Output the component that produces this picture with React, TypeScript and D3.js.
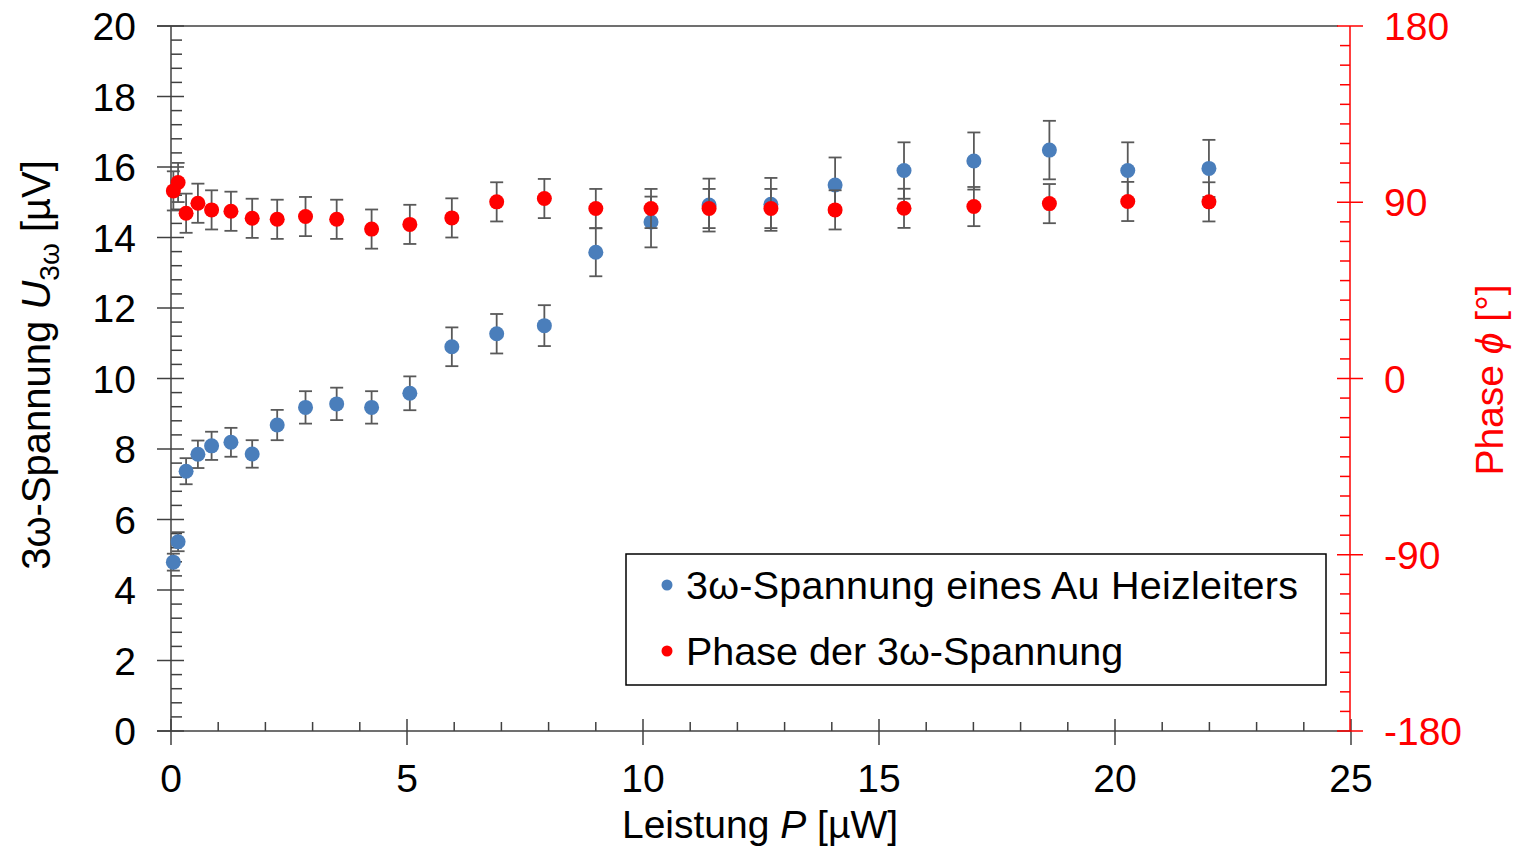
import React from "react";
import * as d3 from "d3";

const powerUW = [0.05, 0.15, 0.32, 0.57, 0.86, 1.27, 1.72, 2.25, 2.85, 3.51, 4.25, 5.06, 5.95, 6.90, 7.91, 9.00, 10.17, 11.40, 12.71, 14.07, 15.53, 17.01, 18.61, 20.27, 21.99];
const voltageUV = [4.79, 5.37, 7.37, 7.85, 8.09, 8.19, 7.86, 8.68, 9.18, 9.28, 9.18, 9.58, 10.90, 11.27, 11.50, 13.58, 14.44, 14.92, 14.94, 15.49, 15.90, 16.17, 16.48, 15.90, 15.96];
const voltageErr = [0.24, 0.27, 0.37, 0.39, 0.40, 0.41, 0.39, 0.43, 0.46, 0.46, 0.46, 0.48, 0.55, 0.56, 0.58, 0.68, 0.72, 0.75, 0.75, 0.78, 0.80, 0.81, 0.83, 0.80, 0.81];
const phaseDeg = [95.8, 100.1, 84.4, 89.5, 86.1, 85.4, 81.8, 81.3, 82.7, 81.3, 76.3, 78.7, 82.0, 90.2, 91.9, 86.8, 86.8, 86.8, 86.8, 86.1, 86.9, 87.8, 89.3, 90.4, 90.2];
const phaseErr = [10, 10, 10, 10, 10, 10, 10, 10, 10, 10, 10, 10, 10, 10, 10, 10, 10, 10, 10, 10, 10, 10, 10, 10, 10];

const xTicks = [0, 5, 10, 15, 20, 25];
const yLeftTicks = [0, 2, 4, 6, 8, 10, 12, 14, 16, 18, 20];
const yRightTicks = [-180, -90, 0, 90, 180];

const legendLabels = ["3ω-Spannung eines Au Heizleiters", "Phase der 3ω-Spannung"];

const BLUE = "#4a7ebb";
const RED = "#ff0000";
const AXIS = "#404040";
const ERR = "#595959";
const FONT = "'Liberation Sans', Arial, sans-serif";
const FS = 39;

export default function App() {
  const x = d3.scaleLinear().domain([0, 25]).range([171, 1351]);
  const yL = d3.scaleLinear().domain([0, 20]).range([731, 26]);
  const yR = d3.scaleLinear().domain([-180, 180]).range([731, 26]);

  const xMinor = d3.range(0, 25.001, 1).filter((v) => v % 5 !== 0);
  const yLMinor = d3.range(0, 20.001, 0.4).filter((v) => Math.abs(v / 2 - Math.round(v / 2)) > 1e-6);
  const yRMinor = d3.range(-180, 180.001, 10).filter((v) => v % 90 !== 0);

  const cap = 6.5;
  const x0 = x(0);
  const xEnd = x(25);
  const yBot = yL(0);
  const yTop = yL(20);

  return (
    <svg width={1517} height={848} style={{ position: "absolute", left: 0, top: 0, background: "#fff" }} fontFamily={FONT}>
      {/* top border */}
      <line x1={157} x2={xEnd - 13} y1={yTop} y2={yTop} stroke={AXIS} strokeWidth={1.5} />
      {/* left axis */}
      <line x1={x0} x2={x0} y1={yTop} y2={yBot} stroke={AXIS} strokeWidth={1.5} />
      {yLeftTicks.map((t) => (
        <g key={"yl" + t}>
          <line x1={157} x2={184} y1={yL(t)} y2={yL(t)} stroke={AXIS} strokeWidth={1.5} />
          <text x={136} y={yL(t)} dy="0.36em" textAnchor="end" fontSize={FS} fill="#000">{t}</text>
        </g>
      ))}
      {yLMinor.map((t) => (
        <line key={"ylm" + t} x1={x0} x2={182} y1={yL(t)} y2={yL(t)} stroke={AXIS} strokeWidth={1.5} />
      ))}
      {/* bottom axis */}
      <line x1={157} x2={xEnd} y1={yBot} y2={yBot} stroke={AXIS} strokeWidth={1.5} />
      {xTicks.map((t) => (
        <g key={"x" + t}>
          <line x1={x(t)} x2={x(t)} y1={719} y2={745} stroke={AXIS} strokeWidth={1.5} />
          <text x={x(t)} y={792} textAnchor="middle" fontSize={FS} fill="#000">{t}</text>
        </g>
      ))}
      {xMinor.map((t) => (
        <line key={"xm" + t} x1={x(t)} x2={x(t)} y1={722} y2={yBot} stroke={AXIS} strokeWidth={1.5} />
      ))}
      {/* right axis */}
      <line x1={xEnd - 1} x2={xEnd - 1} y1={yTop} y2={yBot} stroke={RED} strokeWidth={1.5} />
      {yRightTicks.map((t) => (
        <g key={"yr" + t}>
          <line x1={1337} x2={1363} y1={yR(t)} y2={yR(t)} stroke={RED} strokeWidth={1.5} />
          <text x={1384} y={yR(t)} dy="0.36em" textAnchor="start" fontSize={FS} fill={RED}>{t}</text>
        </g>
      ))}
      {yRMinor.map((t) => (
        <line key={"yrm" + t} x1={1340} x2={xEnd - 1} y1={yR(t)} y2={yR(t)} stroke={RED} strokeWidth={1.5} />
      ))}

      {/* blue series error bars */}
      {powerUW.map((p, i) => {
        const cx = x(p);
        const y1 = yL(voltageUV[i] - voltageErr[i]);
        const y2 = yL(voltageUV[i] + voltageErr[i]);
        return (
          <g key={"be" + i} stroke={ERR} strokeWidth={1.8}>
            <line x1={cx} x2={cx} y1={y1} y2={y2} />
            <line x1={cx - cap} x2={cx + cap} y1={y1} y2={y1} />
            <line x1={cx - cap} x2={cx + cap} y1={y2} y2={y2} />
          </g>
        );
      })}
      {powerUW.map((p, i) => (
        <circle key={"b" + i} cx={x(p)} cy={yL(voltageUV[i])} r={7.5} fill={BLUE} />
      ))}
      {/* red series error bars */}
      {powerUW.map((p, i) => {
        const cx = x(p);
        const y1 = yR(phaseDeg[i] - phaseErr[i]);
        const y2 = yR(phaseDeg[i] + phaseErr[i]);
        return (
          <g key={"re" + i} stroke={ERR} strokeWidth={1.8}>
            <line x1={cx} x2={cx} y1={y1} y2={y2} />
            <line x1={cx - cap} x2={cx + cap} y1={y1} y2={y1} />
            <line x1={cx - cap} x2={cx + cap} y1={y2} y2={y2} />
          </g>
        );
      })}
      {powerUW.map((p, i) => (
        <circle key={"r" + i} cx={x(p)} cy={yR(phaseDeg[i])} r={7.5} fill={RED} />
      ))}

      {/* legend */}
      <rect x={626} y={554} width={700} height={131} fill="#fff" stroke="#000" strokeWidth={1.5} />
      <circle cx={667} cy={585} r={5.5} fill={BLUE} />
      <text x={686} y={585} dy="0.36em" fontSize={39.5} fill="#000" textLength={612} lengthAdjust="spacing">{legendLabels[0]}</text>
      <circle cx={667} cy={651} r={5.5} fill={RED} />
      <text x={686} y={651} dy="0.36em" fontSize={39.5} fill="#000">{legendLabels[1]}</text>

      {/* axis titles */}
      <text x={760} y={838} textAnchor="middle" fontSize={FS} fill="#000">
        Leistung <tspan fontStyle="italic">P</tspan> [µW]
      </text>
      <text transform="translate(50,365) rotate(-90)" textAnchor="middle" fontSize={40} fill="#000">
        3ω-Spannung <tspan fontStyle="italic">U</tspan><tspan fontSize={28} dy="9">3ω</tspan><tspan dy="-9"> [µV]</tspan>
      </text>
      <text transform="translate(1503,380) rotate(-90)" textAnchor="middle" fontSize={FS} fill={RED}>
        Phase <tspan fontStyle="italic">ϕ</tspan> [°]
      </text>
    </svg>
  );
}
